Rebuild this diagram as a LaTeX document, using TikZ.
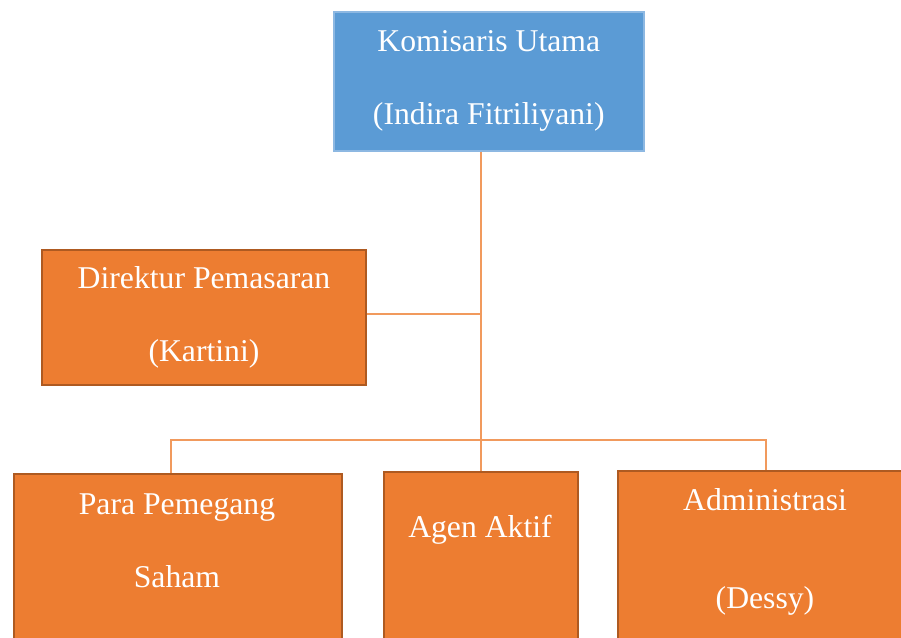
\documentclass[tikz,border=0pt]{standalone}
\usepackage{fontspec}
\setmainfont{Liberation Serif}
\usepackage{tikz}
\definecolor{boxblue}{HTML}{5B9BD5}
\definecolor{boxblueline}{HTML}{8DB8E2}
\definecolor{boxorange}{HTML}{ED7D31}
\definecolor{boxorangeline}{HTML}{AE5A21}
\definecolor{wire}{HTML}{F19A5D}
\usetikzlibrary{positioning,calc}
\tikzset{
  every picture/.style={line join=miter},
  orgbox/.style={
    draw=boxorangeline,
    fill=boxorange,
    line width=2pt,
    align=center,
    inner sep=0pt,
    text=white,
    font=\fontsize{31.7}{73}\selectfont
  },
  headbox/.style={orgbox, draw=boxblueline, fill=boxblue, line width=1.5pt},
  boxtext/.style={align=center, inner sep=0pt, text=white, font=\fontsize{31.7}{73}\selectfont},
  wireline/.style={draw=wire, line width=1.3pt}
}

\begin{document}
\begin{tikzpicture}[x=1pt, y=-1pt]
  \useasboundingbox (0,0) rectangle (901,637);
  \clip (0,0) rectangle (901,637);

  % Top and middle
  \node[headbox, minimum width=310pt, minimum height=139pt, anchor=north west] (kom) at (333,11) {Komisaris Utama\\(Indira Fitriliyani)};
  \node[orgbox, minimum width=324pt, minimum height=135pt, anchor=north west] (dir) at (41,249) {Direktur Pemasaran\\(Kartini)};

  % Bottom row (runs off the page)
  \node[orgbox, minimum width=328pt, minimum height=220pt, anchor=north west] (para) at (13,473) {};
  \node[orgbox, minimum width=194pt, minimum height=220pt, anchor=north west] (agen) at (383,471) {};
  \node[orgbox, minimum width=296pt, minimum height=220pt, anchor=north west] (admin) at (617,470) {};

  \node[boxtext] (paraT) at (177,541) {Para Pemegang\\Saham};
  \node[boxtext] (agenT) at (480,530) {Agen Aktif};
  \node[boxtext] (adminT) at (765,552) {Administrasi\\[25pt](Dessy)};

  % Connectors
  \coordinate (bus) at (480,440);
  \coordinate (paraTap) at ([xshift=-7pt]para.north);
  \coordinate (dirTap) at ([yshift=3.5pt]dir.east);
  \draw[wireline] (kom.south -| agen.north) -- (agen.north);
  \draw[wireline] (dirTap) -- (dirTap -| agen.north);
  \draw[wireline] (paraTap) |- (bus) -| (admin.north);
\end{tikzpicture}
\end{document}
